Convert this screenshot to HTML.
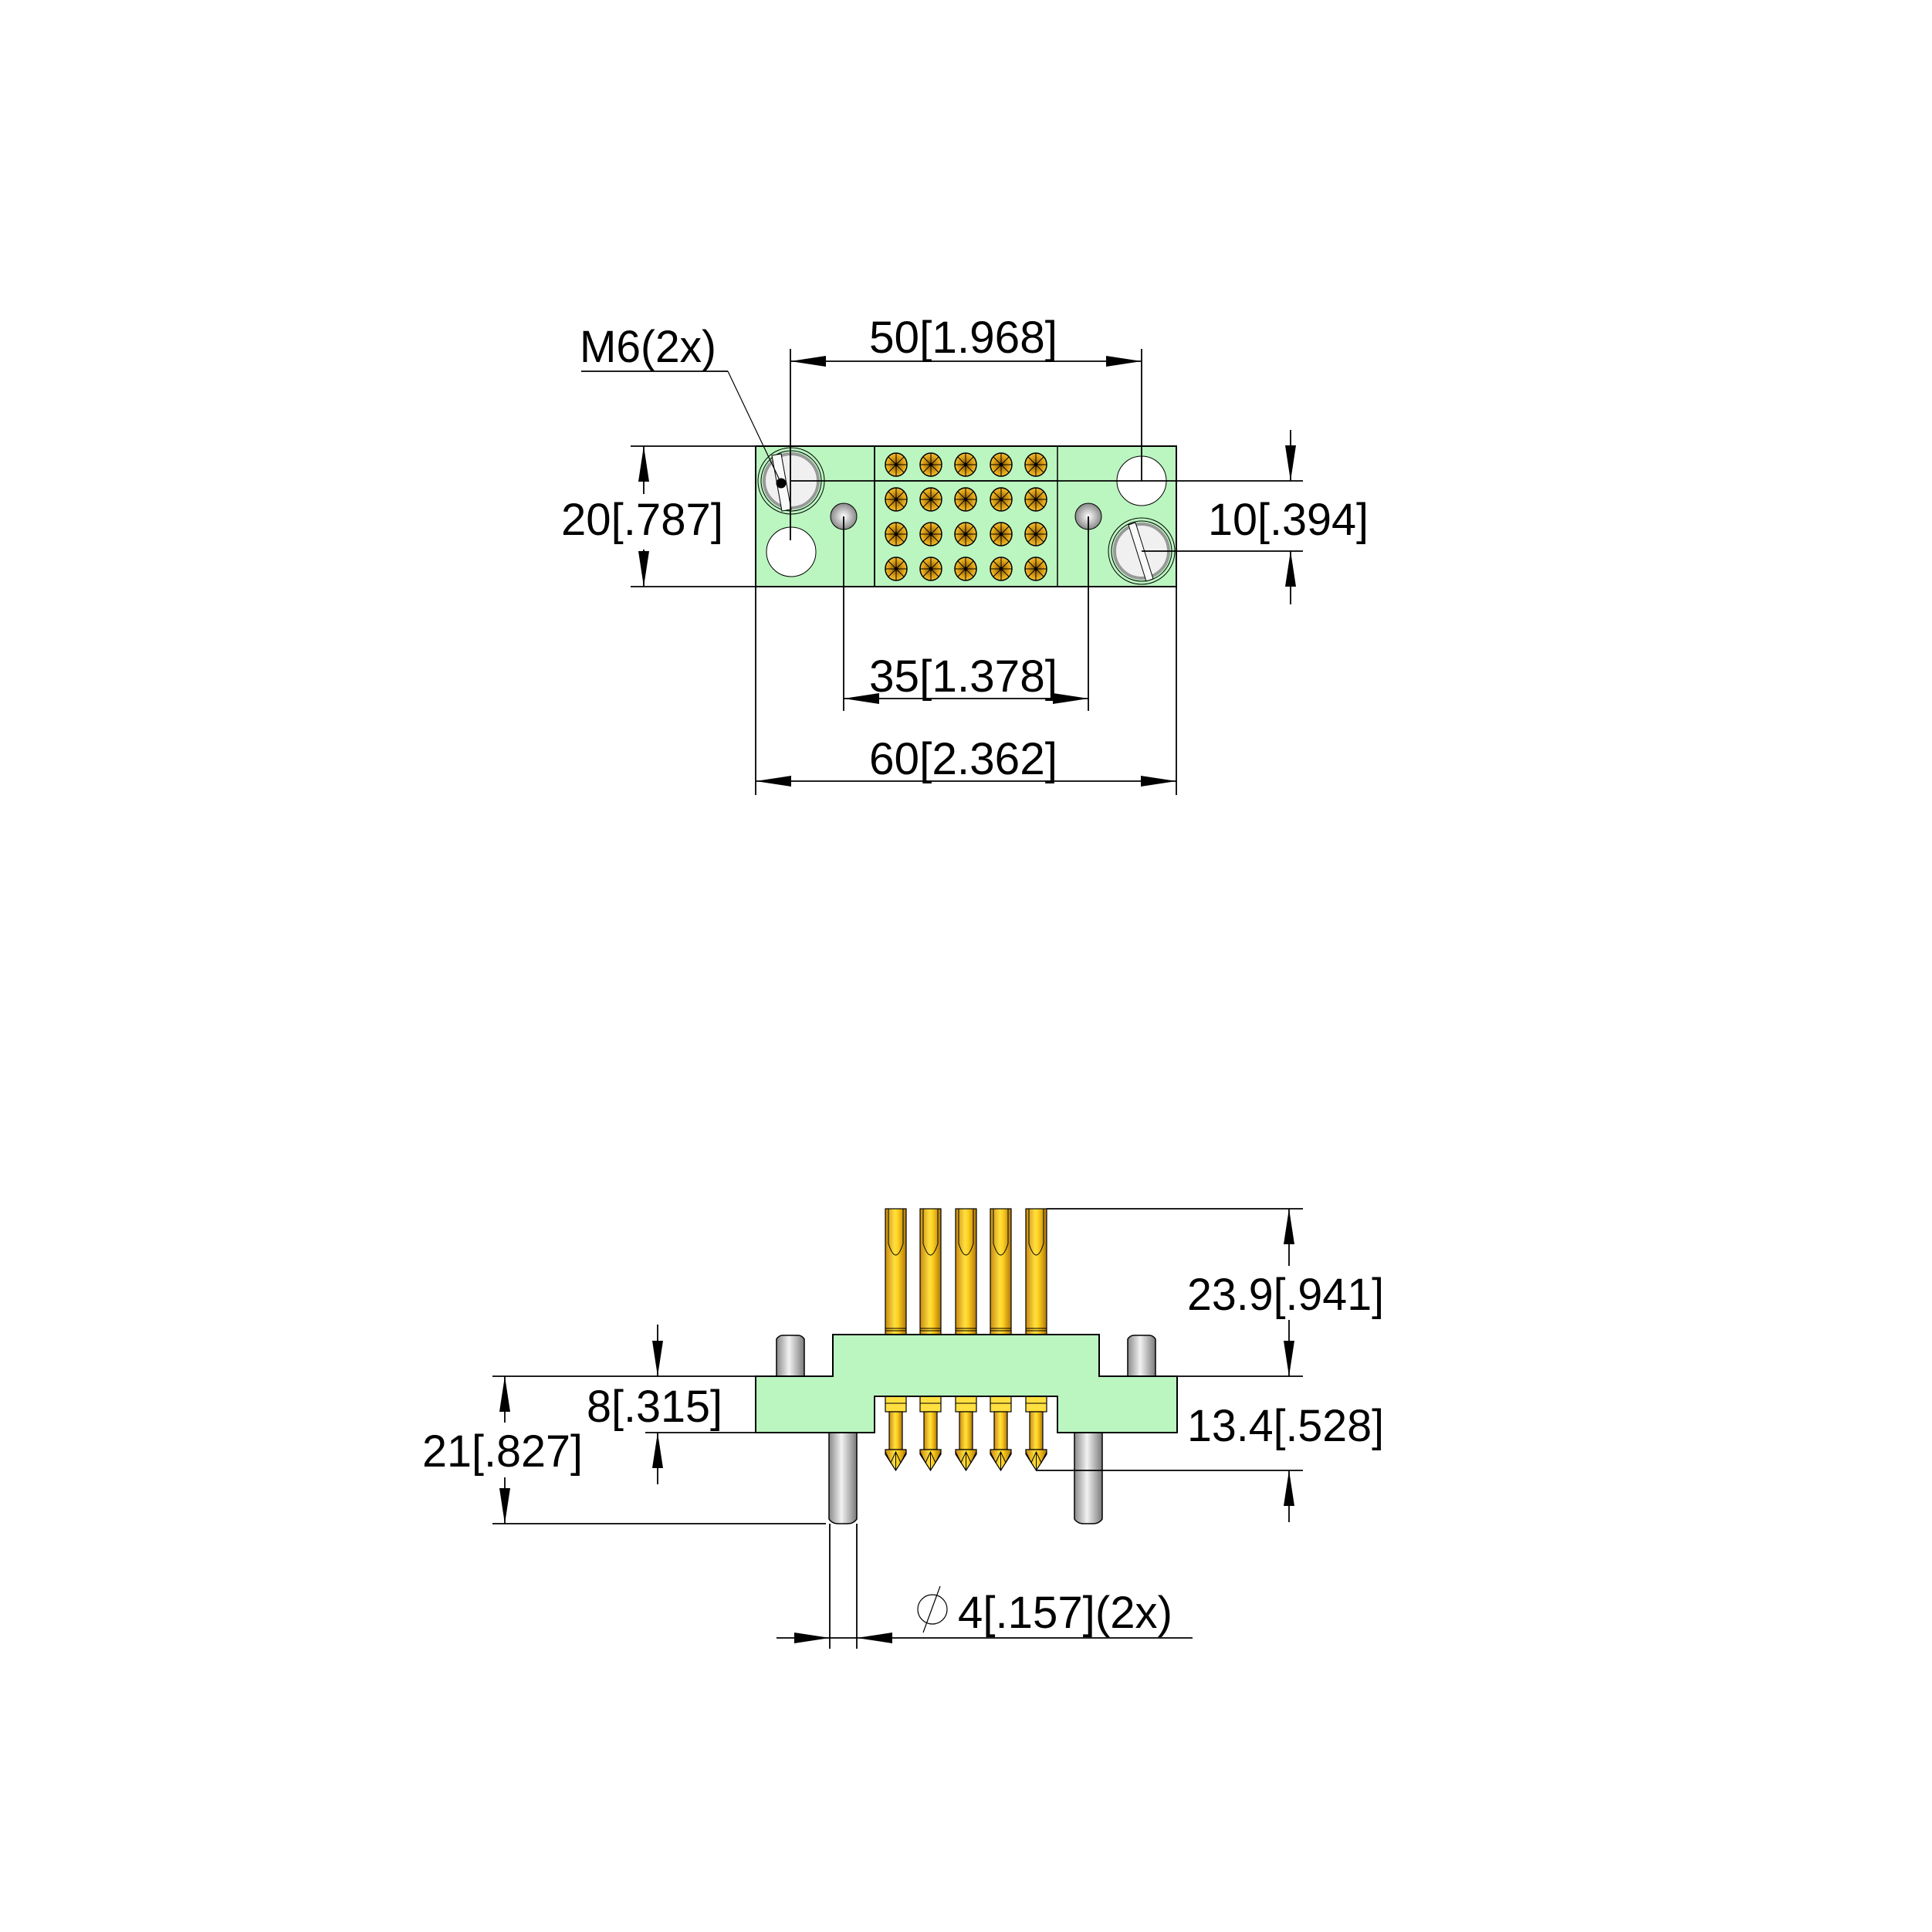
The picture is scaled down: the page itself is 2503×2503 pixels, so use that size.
<!DOCTYPE html>
<html><head><meta charset="utf-8"><style>html,body{margin:0;padding:0;background:#fff}svg{display:block}</style></head>
<body>
<svg width="2503" height="2503" viewBox="0 0 2503 2503" xmlns="http://www.w3.org/2000/svg">
<defs>
<linearGradient id="gold" x1="0" x2="1" y1="0" y2="0">
<stop offset="0" stop-color="#c98a10"/><stop offset="0.45" stop-color="#ffe040"/><stop offset="0.6" stop-color="#ffd020"/><stop offset="1" stop-color="#b07808"/></linearGradient>
<linearGradient id="steel" x1="0" x2="1" y1="0" y2="0">
<stop offset="0" stop-color="#8a8a8a"/><stop offset="0.45" stop-color="#f2f2f2"/><stop offset="1" stop-color="#7a7a7a"/></linearGradient>
<radialGradient id="ball" cx="0.5" cy="0.5" r="0.5"><stop offset="0" stop-color="#fff"/><stop offset="1" stop-color="#888"/></radialGradient>
<radialGradient id="cont" cx="0.5" cy="0.5" r="0.5"><stop offset="0" stop-color="#7a4f08"/><stop offset="0.6" stop-color="#d4980f"/><stop offset="1" stop-color="#f5c030"/></radialGradient>
<g id="contact">
<ellipse cx="0" cy="0" rx="14" ry="15" fill="url(#cont)" stroke="#000" stroke-width="1.5"/>
<path d="M-14 0H14M0 -15V15M-10 -10L10 10M10 -10L-10 10" stroke="#000" stroke-width="1"/>
<circle r="2.5" fill="#000"/>
</g>
<g id="pinup">
<rect x="0" y="0" width="27" height="163" fill="url(#gold)" stroke="#000" stroke-width="1.2"/>
<path d="M4 0V45Q13.5 75 23 45V0" fill="none" stroke="#000" stroke-width="1"/>
<path d="M0 155H27M0 158H27" stroke="#000" stroke-width="1"/>
</g>
<g id="pindn">
<rect x="0" y="0" width="27" height="20" fill="#ffe040" stroke="#000" stroke-width="1.2"/>
<path d="M0 9H27" stroke="#000" stroke-width="1"/>
<rect x="5" y="20" width="17" height="49" fill="url(#gold)" stroke="#000" stroke-width="1.2"/>
<path d="M0 69H27V75L13.5 96L0 75Z" fill="url(#gold)" stroke="#000" stroke-width="1.2"/>
<path d="M0 72L7 86L13.5 72L20 86L27 72M13.5 72V96" fill="none" stroke="#000" stroke-width="1"/>
</g>
</defs>

<g font-family="Liberation Sans, sans-serif" font-size="58" fill="#000">
<!-- ============ TOP VIEW ============ -->
<rect x="979" y="578" width="545" height="182" fill="#bbf5c0" stroke="#000" stroke-width="2"/>
<line x1="1133" y1="578" x2="1133" y2="760" stroke="#000" stroke-width="2"/>
<line x1="1370" y1="578" x2="1370" y2="760" stroke="#000" stroke-width="1.5"/>
<line x1="1133" y1="623" x2="1370" y2="623" stroke="#000" stroke-width="1.5"/>
<!-- holes -->
<circle cx="1025" cy="715" r="32" fill="#fff" stroke="#000" stroke-width="1"/>
<circle cx="1479" cy="623" r="32" fill="#fff" stroke="#000" stroke-width="1"/>
<!-- screws -->
<g>
<circle cx="1025" cy="623" r="43" fill="none" stroke="#000" stroke-width="1"/>
<circle cx="1025" cy="623" r="39" fill="none" stroke="#000" stroke-width="1"/>
<circle cx="1025" cy="623" r="35" fill="#f0f0f0" stroke="#999" stroke-width="4"/>
<path d="M1000 590L1012 588L1025 660L1013 662Z" fill="#fafafa" stroke="#000" stroke-width="1"/>
</g>
<g>
<circle cx="1479" cy="714" r="43" fill="none" stroke="#000" stroke-width="1"/>
<circle cx="1479" cy="714" r="39" fill="none" stroke="#000" stroke-width="1"/>
<circle cx="1479" cy="714" r="35" fill="#f0f0f0" stroke="#999" stroke-width="4"/>
<path d="M1462 680L1471 677L1494 750L1485 753Z" fill="#fafafa" stroke="#000" stroke-width="1"/>
</g>
<circle cx="1012" cy="626" r="6.5" fill="#000"/>
<!-- guide pins -->
<circle cx="1093" cy="669" r="17" fill="url(#ball)" stroke="#000" stroke-width="1"/>
<circle cx="1410" cy="669" r="17" fill="url(#ball)" stroke="#000" stroke-width="1"/>
<!-- contacts -->
<g>
<use href="#contact" x="1161" y="602"/><use href="#contact" x="1206" y="602"/><use href="#contact" x="1251" y="602"/><use href="#contact" x="1297" y="602"/><use href="#contact" x="1342" y="602"/>
<use href="#contact" x="1161" y="647"/><use href="#contact" x="1206" y="647"/><use href="#contact" x="1251" y="647"/><use href="#contact" x="1297" y="647"/><use href="#contact" x="1342" y="647"/>
<use href="#contact" x="1161" y="692"/><use href="#contact" x="1206" y="692"/><use href="#contact" x="1251" y="692"/><use href="#contact" x="1297" y="692"/><use href="#contact" x="1342" y="692"/>
<use href="#contact" x="1161" y="737"/><use href="#contact" x="1206" y="737"/><use href="#contact" x="1251" y="737"/><use href="#contact" x="1297" y="737"/><use href="#contact" x="1342" y="737"/>
</g>

<g stroke="#000" stroke-width="1.8" fill="none">
<!-- 50 -->
<line x1="1024" y1="452" x2="1024" y2="700"/>
<line x1="1479" y1="452" x2="1479" y2="623"/>
<line x1="1024" y1="468" x2="1479" y2="468"/>
<!-- M6 leader -->
<line x1="753" y1="481" x2="943" y2="481" />
<line x1="943" y1="481" x2="1012" y2="626" stroke-width="1.2"/>
<!-- 20 -->
<line x1="817" y1="578" x2="979" y2="578"/>
<line x1="817" y1="760" x2="979" y2="760"/>
<line x1="834" y1="578" x2="834" y2="640"/>
<line x1="834" y1="712" x2="834" y2="760"/>
<!-- 10 -->
<line x1="1025" y1="623" x2="1688" y2="623"/>
<line x1="1479" y1="714" x2="1688" y2="714"/>
<line x1="1672" y1="557" x2="1672" y2="623"/>
<line x1="1672" y1="714" x2="1672" y2="783"/>
<!-- 35 -->
<line x1="1093" y1="669" x2="1093" y2="921"/>
<line x1="1410" y1="669" x2="1410" y2="921"/>
<line x1="1093" y1="905" x2="1410" y2="905"/>
<!-- 60 -->
<line x1="979" y1="760" x2="979" y2="1030"/>
<line x1="1524" y1="760" x2="1524" y2="1030"/>
<line x1="979" y1="1012" x2="1524" y2="1012"/>
</g>
<g fill="#000">
<path d="M1024 468l46 -7v14z"/><path d="M1479 468l-46 -7v14z"/>
<path d="M834 578l-7 46h14z"/><path d="M834 760l-7 -46h14z"/>
<path d="M1672 623l-7 -46h14z"/><path d="M1672 714l-7 46h14z"/>
<path d="M1093 905l46 -7v14z"/><path d="M1410 905l-46 -7v14z"/>
<path d="M979 1012l46 -7v14z"/><path d="M1524 1012l-46 -7v14z"/>
</g>
<text x="1126" y="457" textLength="244" lengthAdjust="spacingAndGlyphs">50[1.968]</text>
<text x="751" y="469" textLength="177" lengthAdjust="spacingAndGlyphs">M6(2x)</text>
<text x="727" y="693" textLength="210" lengthAdjust="spacingAndGlyphs">20[.787]</text>
<text x="1565" y="693" textLength="208" lengthAdjust="spacingAndGlyphs">10[.394]</text>
<text x="1126" y="896" textLength="244" lengthAdjust="spacingAndGlyphs">35[1.378]</text>
<text x="1126" y="1003" textLength="244" lengthAdjust="spacingAndGlyphs">60[2.362]</text>

<!-- ============ SIDE VIEW ============ -->
<!-- posts -->
<path d="M1006 1783V1735q3-5 8-5h20q5 0 8 5V1783Z" fill="url(#steel)" stroke="#000" stroke-width="1.5"/>
<path d="M1461 1783V1735q3-5 8-5h20q5 0 8 5V1783Z" fill="url(#steel)" stroke="#000" stroke-width="1.5"/>
<path d="M1074 1856V1968q4 6 12 6h12q8 0 12-6V1856Z" fill="url(#steel)" stroke="#000" stroke-width="1.5"/>
<path d="M1392 1856V1968q4 6 12 6h12q8 0 12-6V1856Z" fill="url(#steel)" stroke="#000" stroke-width="1.5"/>
<!-- pins up -->
<use href="#pinup" x="1147" y="1566"/><use href="#pinup" x="1192" y="1566"/><use href="#pinup" x="1238" y="1566"/><use href="#pinup" x="1283" y="1566"/><use href="#pinup" x="1329" y="1566"/>
<!-- pins down -->
<use href="#pindn" x="1147" y="1809"/><use href="#pindn" x="1192" y="1809"/><use href="#pindn" x="1238" y="1809"/><use href="#pindn" x="1283" y="1809"/><use href="#pindn" x="1329" y="1809"/>
<!-- body -->
<path d="M1079 1729H1424V1783H1525V1856H1370V1809H1133V1856H979V1783H1079Z" fill="#bbf5c0" stroke="#000" stroke-width="2"/>

<g stroke="#000" stroke-width="1.8" fill="none">
<!-- 23.9 -->
<line x1="1356" y1="1566" x2="1688" y2="1566"/>
<line x1="1525" y1="1783" x2="1688" y2="1783"/>
<line x1="1342" y1="1905" x2="1688" y2="1905"/>
<line x1="1670" y1="1566" x2="1670" y2="1640"/>
<line x1="1670" y1="1710" x2="1670" y2="1783"/>
<line x1="1670" y1="1905" x2="1670" y2="1972"/>
<!-- 8 / 21 -->
<line x1="638" y1="1783" x2="979" y2="1783"/>
<line x1="836" y1="1856" x2="979" y2="1856"/>
<line x1="638" y1="1974" x2="1070" y2="1974"/>
<line x1="852" y1="1716" x2="852" y2="1783"/>
<line x1="852" y1="1856" x2="852" y2="1923"/>
<line x1="654" y1="1783" x2="654" y2="1843"/>
<line x1="654" y1="1914" x2="654" y2="1974"/>
<!-- dia -->
<line x1="1075" y1="1974" x2="1075" y2="2136"/>
<line x1="1110" y1="1974" x2="1110" y2="2136"/>
<line x1="1006" y1="2122" x2="1545" y2="2122"/>
<circle cx="1208" cy="2085" r="19" stroke-width="1.2"/>
<line x1="1196" y1="2115" x2="1218" y2="2055" stroke-width="1.2"/>
</g>
<g fill="#000">
<path d="M1670 1566l-7 46h14z"/><path d="M1670 1783l-7 -46h14z"/>
<path d="M1670 1905l-7 46h14z"/>
<path d="M852 1783l-7 -46h14z"/><path d="M852 1856l-7 46h14z"/>
<path d="M654 1783l-7 46h14z"/><path d="M654 1974l-7 -46h14z"/>
<path d="M1075 2122l-46 -7v14z"/><path d="M1110 2122l46 -7v14z"/>
</g>
<text x="1538" y="1697" textLength="255" lengthAdjust="spacingAndGlyphs">23.9[.941]</text>
<text x="1538" y="1867" textLength="255" lengthAdjust="spacingAndGlyphs">13.4[.528]</text>
<text x="760" y="1842" textLength="176" lengthAdjust="spacingAndGlyphs">8[.315]</text>
<text x="547" y="1900" textLength="208" lengthAdjust="spacingAndGlyphs">21[.827]</text>
<text x="1241" y="2109" textLength="278" lengthAdjust="spacingAndGlyphs">4[.157](2x)</text>
</g>
</svg>
</body></html>
